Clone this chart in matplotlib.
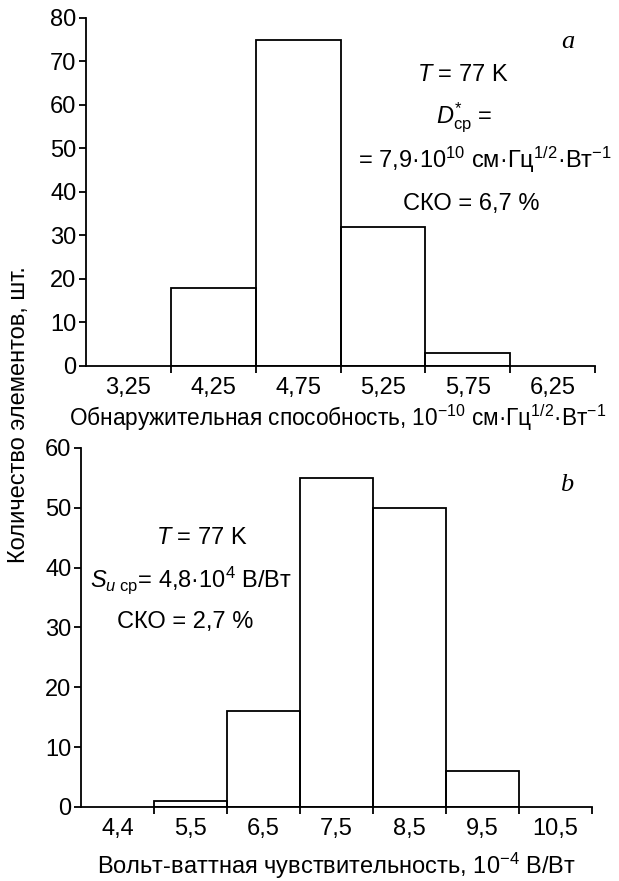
import matplotlib
matplotlib.use("Agg")
import matplotlib.pyplot as plt
import numpy as np

plt.rcParams['font.family'] = ['Liberation Sans', 'DejaVu Sans']
plt.rcParams['mathtext.fontset'] = 'custom'
plt.rcParams['mathtext.rm'] = 'Liberation Sans'
plt.rcParams['mathtext.it'] = 'Liberation Sans:italic'
plt.rcParams['mathtext.bf'] = 'Liberation Sans:bold'

# Panel a: detectivity histogram
a_labels = ["3,25", "4,25", "4,75", "5,25", "5,75", "6,25"]
a_counts = [0, 18, 75, 32, 3, 0]
a_yticks = [0, 10, 20, 30, 40, 50, 60, 70, 80]

# Panel b: voltage responsivity histogram
b_labels = ["4,4", "5,5", "6,5", "7,5", "8,5", "9,5", "10,5"]
b_counts = [0, 1, 16, 55, 50, 6, 0]
b_yticks = [0, 10, 20, 30, 40, 50, 60]

FS = 17
TFS = 17
LW = 1.3

fig = plt.figure(figsize=(6.19, 8.81), dpi=100)
ax1 = fig.add_axes([0.139, 0.5846, 0.8223, 0.395])
ax2 = fig.add_axes([0.1309, 0.084, 0.8255, 0.4075])


def style(ax, labels, counts, yticks):
    n = len(labels)
    edges = np.arange(n)
    h = np.array(counts, dtype=float)
    mask = h > 0
    ax.bar(edges[mask], h[mask], width=1.0, align='edge', fill=False,
           edgecolor='black', linewidth=LW)
    ax.set_xlim(0, n)
    ax.set_ylim(yticks[0], yticks[-1])
    ax.set_yticks(yticks)
    ax.set_xticks(np.arange(1, n + 1))
    ax.set_xticklabels([])
    ax.set_xticks(np.arange(n) + 0.5, minor=True)
    ax.set_xticklabels(labels, minor=True)
    ax.tick_params(axis='x', which='minor', length=0, pad=8, labelsize=TFS)
    ax.tick_params(axis='x', which='major', length=5, width=LW, direction='out')
    ax.tick_params(axis='y', length=5, width=LW, direction='out', labelsize=TFS, pad=2)
    for s in ['top', 'right']:
        ax.spines[s].set_visible(False)
    for s in ['left', 'bottom']:
        ax.spines[s].set_linewidth(LW)


style(ax1, a_labels, a_counts, a_yticks)
style(ax2, b_labels, b_counts, b_yticks)

ax1.set_xlabel("Обнаружительная способность, 10$^{-10}$ см·Гц$^{1/2}$·Вт$^{-1}$",
               fontsize=16.3, labelpad=5)
ax1.xaxis.set_label_coords(0.495, -0.105)
ax2.set_xlabel("Вольт-ваттная чувствительность, 10$^{-4}$ В/Вт",
               fontsize=FS, labelpad=8)

fig.text(0.03, 0.529, "Количество элементов, шт.", rotation=90,
         ha='center', va='center', fontsize=FS)

# annotations panel a
tr1 = ax1.transAxes
ax1.text(0.947, 0.931, "a", transform=tr1, fontsize=19, style='italic',
         family='Liberation Serif', ha='center', va='center')
ax1.text(0.741, 0.836, "$T$ = 77 K", transform=tr1, fontsize=FS, ha='center', va='center')
ax1.text(0.743, 0.713, "$D^{*}_{\\mathrm{ср}}$ =", transform=tr1, fontsize=FS, ha='center', va='center')
ax1.text(0.784, 0.592, "= 7,9·10$^{10}$ см·Гц$^{1/2}$·Вт$^{-1}$", transform=tr1,
         fontsize=FS, ha='center', va='center')
ax1.text(0.756, 0.466, "СКО = 6,7 %", transform=tr1, fontsize=FS, ha='center', va='center')

# annotations panel b
tr2 = ax2.transAxes
ax2.text(0.951, 0.897, "b", transform=tr2, fontsize=19, style='italic',
         family='Liberation Serif', ha='center', va='center')
ax2.text(0.237, 0.749, "$T$ = 77 K", transform=tr2, fontsize=FS, ha='center', va='center')
ax2.text(0.215, 0.632, "$S_{u\\ \\mathrm{ср}}$= 4,8·10$^{4}$ В/Вт", transform=tr2,
         fontsize=FS, ha='center', va='center')
ax2.text(0.204, 0.515, "СКО = 2,7 %", transform=tr2, fontsize=FS, ha='center', va='center')

fig.savefig("out.png", dpi=100)
